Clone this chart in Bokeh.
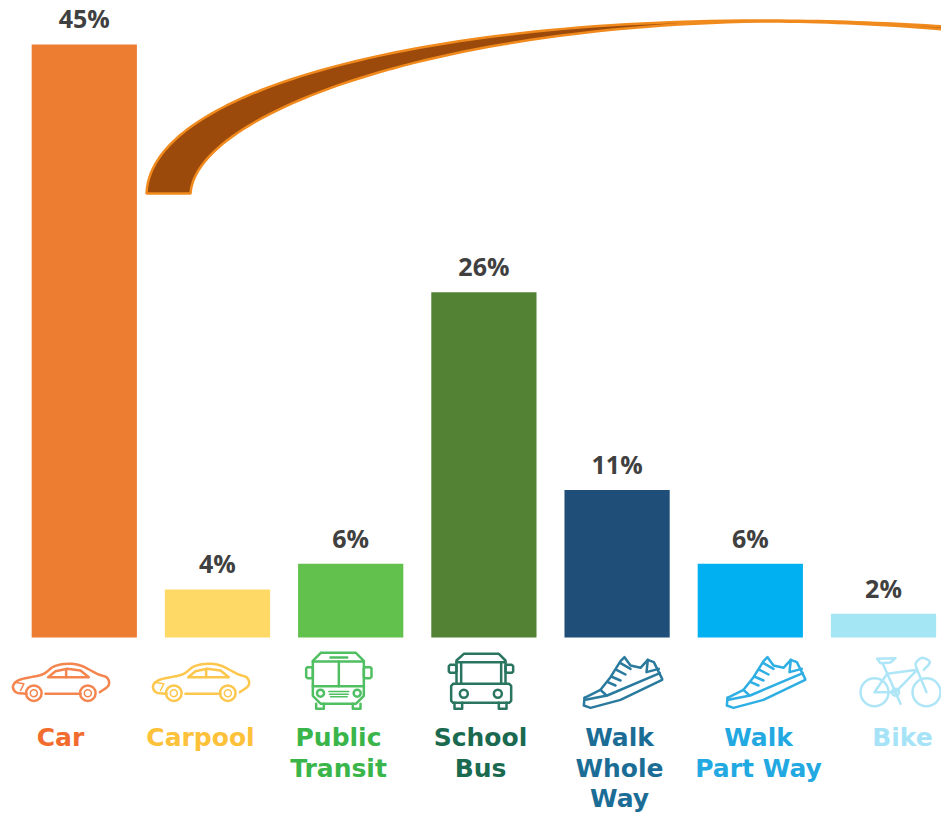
import numpy as np
from bokeh.plotting import figure
from bokeh.models import Range1d
from bokeh.core.properties import value
from bokeh.embed import file_html
from bokeh.resources import INLINE

categories = ["Car", "Carpool", "Public\nTransit", "School\nBus", "Walk\nWhole\nWay", "Walk\nPart Way", "Bike"]
shares = [45.0, 3.65, 5.6, 26.2, 11.2, 5.6, 1.8]
share_labels = ["45%", "4%", "6%", "26%", "11%", "6%", "2%"]
bar_colors = ["#ED7D31", "#FFD966", "#62C14C", "#548235", "#1F4E79", "#00B0F0", "#A5E6F5"]
text_colors = ["#F26C2D", "#FDC13A", "#39B54A", "#1A6A50", "#1B6D96", "#22A9E1", "#A6E3F7"]
icon_colors = ["#F5854F", "#FDC74E", "#4FBF62", "#2A7560", "#2A7A9E", "#2FAEE3", "#AEE6F7"]

W, H = 941, 813
p = figure(width=W, height=H, output_backend="svg", toolbar_location=None,
           x_axis_location=None, y_axis_location=None, min_border=0,
           x_range=Range1d(-0.629, 6.4354), y_range=Range1d(-13.35, 48.33),
           outline_line_color=None, background_fill_color="white", border_fill_color="white")
p.grid.visible = False
p.extra_x_ranges["px"] = Range1d(0, 941)
p.extra_y_ranges["py"] = Range1d(813, 0)

idx = list(range(len(categories)))
p.vbar(x=idx, top=shares, bottom=0, width=0.79, fill_color=bar_colors, line_color=None)
p.text(x=idx, y=shares, text=share_labels, text_align="center", text_baseline="alphabetic",
       y_offset=-26, text_font=value("Open Sans"), text_font_style="bold",
       text_font_size="25px", text_color="#404040")

# category captions
label_cx = [60, 200, 338, 480, 619, 758, 902]
for lab, cx, col in zip(categories, label_cx, text_colors):
    for k, row in enumerate(lab.split("\n")):
        p.text(x=[cx], y=[737 + 30.7 * k], text=[row], x_range_name="px", y_range_name="py",
               text_align="center", text_baseline="alphabetic", text_color=col,
               text_font=value("DejaVu Sans"), text_font_style="bold", text_font_size="25px")


def smooth(pts, n=14):
    a = np.array(pts, float)
    a = np.vstack([2 * a[0] - a[1], a, 2 * a[-1] - a[-2]])
    out = []
    for i in range(1, len(a) - 2):
        p0, p1, p2, p3 = a[i - 1], a[i], a[i + 1], a[i + 2]
        for t in np.linspace(0, 1, n, endpoint=False):
            out.append(0.5 * (2 * p1 + (p2 - p0) * t + (2 * p0 - 5 * p1 + 4 * p2 - p3) * t ** 2
                              + (3 * p1 - p0 - 3 * p2 + p3) * t ** 3))
    out.append(a[-2])
    return np.array(out)


def bez3(a, b, c, d, n=60):
    t = np.linspace(0, 1, n)[:, None]
    a, b, c, d = (np.array(v, float) for v in (a, b, c, d))
    return (1 - t) ** 3 * a + 3 * (1 - t) ** 2 * t * b + 3 * (1 - t) * t ** 2 * c + t ** 3 * d


def bez2(a, b, c, n=20):
    t = np.linspace(0, 1, n)[:, None]
    a, b, c = (np.array(v, float) for v in (a, b, c))
    return (1 - t) ** 2 * a + 2 * (1 - t) * t * b + t ** 2 * c


# swoosh
outer = np.vstack([bez3((146, 193), (150, 90), (420, 20), (760, 20)), bez2((760, 20), (850, 20), (945, 26))])
inner = np.vstack([bez3((190, 193), (195, 115), (430, 26), (760, 21)), bez2((760, 21), (850, 21), (945, 29))])
ring = np.vstack([outer, inner[::-1]])
p.patch(ring[:, 0], ring[:, 1], x_range_name="px", y_range_name="py",
        fill_color="#9C4A0B", line_color="#F08A1D", line_width=2.5)


ICON_LW = 2.5


def line(pts, col, lw=ICON_LW, close=False, curve=False):
    pts = list(pts)
    if close:
        pts.append(pts[0])
    a = smooth(pts, 8) if curve else np.array(pts, float)
    p.line(a[:, 0], a[:, 1], x_range_name="px", y_range_name="py", line_color=col, line_width=lw,
           line_join="round", line_cap="round")


def ring_mark(cx, cy, d, col, lw=ICON_LW):
    p.scatter([cx], [cy], size=d, marker="circle", fill_color=None, line_color=col, line_width=lw,
              x_range_name="px", y_range_name="py")


def rrect(x0, y0, x1, y1, r=3):
    return [(x0 + r, y0), (x1 - r, y0), (x1, y0 + r), (x1, y1 - r), (x1 - r, y1), (x0 + r, y1), (x0, y1 - r),
            (x0, y0 + r), (x0 + r, y0)]


def car(dx, col):
    def T(pts):
        return [(x / 3 + dx, y / 3 + 640) for x, y in pts]
    line(T([(78, 160), (46, 155), (38, 135), (60, 117), (125, 102), (160, 78), (200, 70), (240, 75), (290, 100),
            (320, 112), (324, 135), (298, 155)]), col, curve=True)
    line(T([(135, 160), (240, 160)]), col)
    line(T([(143, 110), (165, 92), (200, 85), (240, 90), (265, 110), (143, 110)]), col)
    line(T([(197, 86), (197, 110)]), col)
    line(T([(42, 125), (70, 130), (60, 150)]), col, 1.5)
    for wx in (100, 262):
        ring_mark(wx / 3 + dx, 158 / 3 + 640, 15.5, col)
        ring_mark(wx / 3 + dx, 158 / 3 + 640, 7, col, 1.5)


car(0, icon_colors[0])
car(140, icon_colors[1])


def bus1(col):
    def T(pts):
        return [(x / 3 + 295, y / 3 + 645) for x, y in pts]
    line(T(rrect(52, 22, 205, 175, 24)), col)
    line(T(rrect(32, 65, 52, 98, 4)), col)
    line(T(rrect(205, 65, 228, 98, 4)), col)
    line(T([(52, 48), (205, 48)]), col)
    line(T([(52, 122), (205, 122)]), col)
    line(T([(130, 48), (130, 122)]), col)
    line(T([(105, 36), (155, 36)]), col)
    for y, a, b in ((138, 100, 160), (146, 102, 158), (154, 105, 155)):
        line(T([(a, y), (b, y)]), col, 1.5)
    line(T([(62, 175), (62, 190), (85, 190), (85, 175)]), col)
    line(T([(172, 175), (172, 190), (195, 190), (195, 175)]), col)
    for x in (75, 185):
        ring_mark(x / 3 + 295, 143 / 3 + 645, 7, col)


bus1(icon_colors[2])


def bus2(col):
    def T(pts):
        return [(x / 3 + 440, y / 3 + 645) for x, y in pts]
    line(T([(48, 115), (48, 45), (70, 25), (175, 25), (195, 45), (195, 115)]), col)
    line(T([(48, 50), (195, 50)]), col)
    line(T([(62, 50), (62, 115)]), col)
    line(T([(182, 50), (182, 115)]), col)
    line(T(rrect(25, 58, 48, 82, 4)), col)
    line(T(rrect(195, 58, 218, 82, 4)), col)
    line(T(rrect(32, 115, 212, 172, 6)), col)
    line(T([(42, 172), (42, 190), (65, 190), (65, 172)]), col)
    line(T([(175, 172), (175, 190), (198, 190), (198, 172)]), col)
    for x in (70, 172):
        ring_mark(x / 3 + 440, 145 / 3 + 645, 8, col)


bus2(icon_colors[3])


def shoe(dx, col):
    def T(pts):
        return [(x / 3 + dx, y / 3 + 640) for x, y in pts]
    line(T([(492, 172), (540, 148), (570, 110), (600, 62), (612, 50), (630, 75), (660, 82), (682, 58), (700, 65),
            (725, 115)]), col)
    line(T([(492, 172), (490, 195), (510, 202), (600, 178), (725, 118)]), col)
    line(T([(495, 178), (560, 165), (718, 98)]), col)
    line(T([(540, 148), (558, 165)]), col)
    line(T([(682, 58), (678, 95), (715, 85)]), col)
    for a, b, c, d in ((562, 125, 585, 135), (572, 108, 600, 120), (588, 88, 615, 102), (600, 68, 630, 85)):
        line(T([(a, b), (c, d)]), col, 2.5)


shoe(420, icon_colors[4])
shoe(563, icon_colors[5])


def bike(col):
    def T(pts):
        return [(x / 3 + 420, y / 3 + 640) for x, y in pts]
    line(T([(1362, 155), (1400, 100), (1490, 88), (1425, 155), (1362, 155)]), col)
    line(T([(1388, 72), (1425, 155), (1440, 190)]), col)
    line(T([(1490, 88), (1518, 155)]), col)
    line(T([(1370, 55), (1425, 53), (1410, 66), (1380, 68), (1370, 55)]), col)
    line(T([(1490, 88), (1486, 68), (1505, 52), (1528, 65), (1510, 88)]), col, curve=True)
    for x, d in ((1362, 28), (1518, 28), (1425, 7)):
        ring_mark(x / 3 + 420, 155 / 3 + 640, d, col)


bike(icon_colors[6])

open("out.html", "w").write(file_html(p, INLINE))
